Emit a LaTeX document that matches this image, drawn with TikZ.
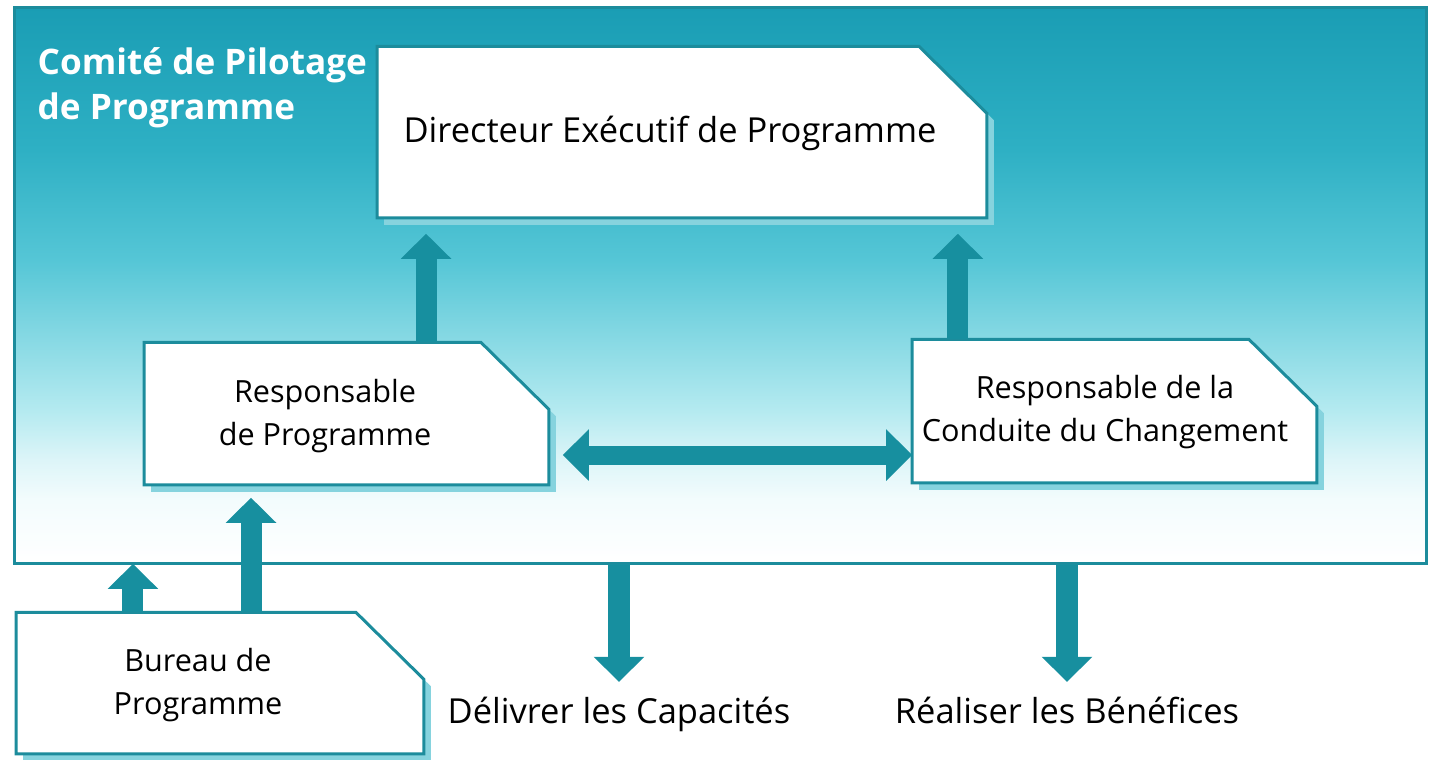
\documentclass[tikz,border=0pt]{standalone}
\usepackage{fontspec}
\setmainfont{Open Sans}
\usetikzlibrary{arrows.meta}

\definecolor{tealtop}{HTML}{1A9DB4}
\definecolor{tealhigh}{HTML}{2EB0C4}
\definecolor{tealmid}{HTML}{55C6D6}
\definecolor{teallight}{HTML}{B4EAF0}
\definecolor{tealpale}{HTML}{DDF5F8}
\definecolor{tealwhite}{HTML}{F3FCFD}
\definecolor{tealline}{HTML}{1C8C9C}
\definecolor{tealarrow}{HTML}{178F9F}
\definecolor{tealshadow}{HTML}{86D3DE}

% top of the panel is dark, bottom fades to white
\pgfdeclareverticalshading{panelfade}{100bp}{color(0bp)=(white); color(25bp)=(white);
    color(30.7bp)=(tealwhite); color(34.3bp)=(tealpale); color(38.8bp)=(teallight);
    color(52.3bp)=(tealmid); color(62.2bp)=(tealhigh); color(75bp)=(tealtop); color(100bp)=(tealtop)}

\tikzset{
    rolebox/.style={inner sep=0pt},
    roletext/.style={align=center,font=\fontsize{8.7}{12}\selectfont,inner sep=0pt},
    bigtext/.style={align=center,font=\fontsize{9.8}{12}\selectfont,inner sep=0pt},
    bigarrow/.style={line width=0.21cm,tealarrow,-{Triangle[width=0.49cm,length=0.25cm]}},
    duoarrow/.style={line width=0.19cm,tealarrow,{Triangle[width=0.5cm,length=0.26cm]}-{Triangle[width=0.5cm,length=0.26cm]}}
}

% outline of a box with its top right corner cut off
\newcommand\boxpath[3]{([shift={(#2,#3)}]#1.south west)--([shift={(#2,#3)}]#1.north west)
    --([shift={(#2-68,#3)}]#1.north east)--([shift={(#2,#3+67)}]#1.north east)
    --([shift={(#2,#3)}]#1.south east)--cycle}
\newcommand\cutbox[1]{%
    \fill [tealshadow] \boxpath{#1}{7}{7};
    \filldraw [fill=white,draw=tealline,line width=0.03cm] \boxpath{#1}{0}{0};
}

\begin{document}
\begin{tikzpicture}[x=0.01cm,y=-0.01cm]
    \useasboundingbox (0,0) rectangle (1429,760);

    \node [rolebox,minimum width=14.09cm,minimum height=5.55cm] (panel) at (720.5,285.5) {};
    \shade [shading=panelfade] (panel.north west) rectangle (panel.south east);
    \draw [tealline,line width=0.03cm] (panel.north west) rectangle (panel.south east);
    \node [anchor=north west,inner sep=0pt,align=left,white,font=\fontsize{10}{12.8}\selectfont\bfseries] (title) at (37,47) {Comité de Pilotage\\de Programme};

    \node [rolebox,minimum width=6.08cm,minimum height=1.70cm] (dir) at (682,132) {};
    \node [rolebox,minimum width=4.03cm,minimum height=1.41cm] (rp) at (346.5,413.5) {};
    \node [rolebox,minimum width=4.03cm,minimum height=1.42cm] (rcc) at (1114.5,411) {};
    \node [rolebox,minimum width=4.06cm,minimum height=1.40cm] (bp) at (220,683) {};
    \cutbox{dir}
    \cutbox{rp}
    \cutbox{rcc}
    \cutbox{bp}

    \node [bigtext] (dirtxt) at (670,133) {Directeur Exécutif de Programme};
    \node [roletext] (rptxt) at (325,416) {Responsable\\de Programme};
    \node [roletext] (rcctxt) at (1105,412) {Responsable de la\\Conduite du Changement};
    \node [roletext] (bptxt) at (198,685) {Bureau de\\Programme};
    \node [bigtext,anchor=base] (cap) at (619,723) {Délivrer les Capacités};
    \node [bigtext,anchor=base] (ben) at (1067,723) {Réaliser les Bénéfices};

    \coordinate (rpup) at ([xshift=0.795cm]rp.north);
    \coordinate (rccup) at ([xshift=-1.565cm]rcc.north);
    \coordinate (link) at ([yshift=-0.415cm]rp.east);
    \coordinate (bpl) at ([xshift=-0.87cm]bp.north);
    \coordinate (bpr) at ([xshift=0.31cm]bp.north);

    \draw [bigarrow,shorten >=0.16cm] (rpup)--(rpup |- dir.south);
    \draw [bigarrow,shorten >=0.16cm] (rccup)--(rccup |- dir.south);
    \draw [duoarrow,shorten <=0.14cm] (link)--(link -| rcc.west);
    \draw [bigarrow,shorten >=0.13cm] (bpr)--(bpr |- rp.south);
    \draw [bigarrow] (bpl)--(bpl |- panel.south);
    \draw [bigarrow,shorten >=0.14cm] (cap.north |- panel.south)--(cap.north);
    \draw [bigarrow,shorten >=0.14cm] (ben.north |- panel.south)--(ben.north);
\end{tikzpicture}
\end{document}
